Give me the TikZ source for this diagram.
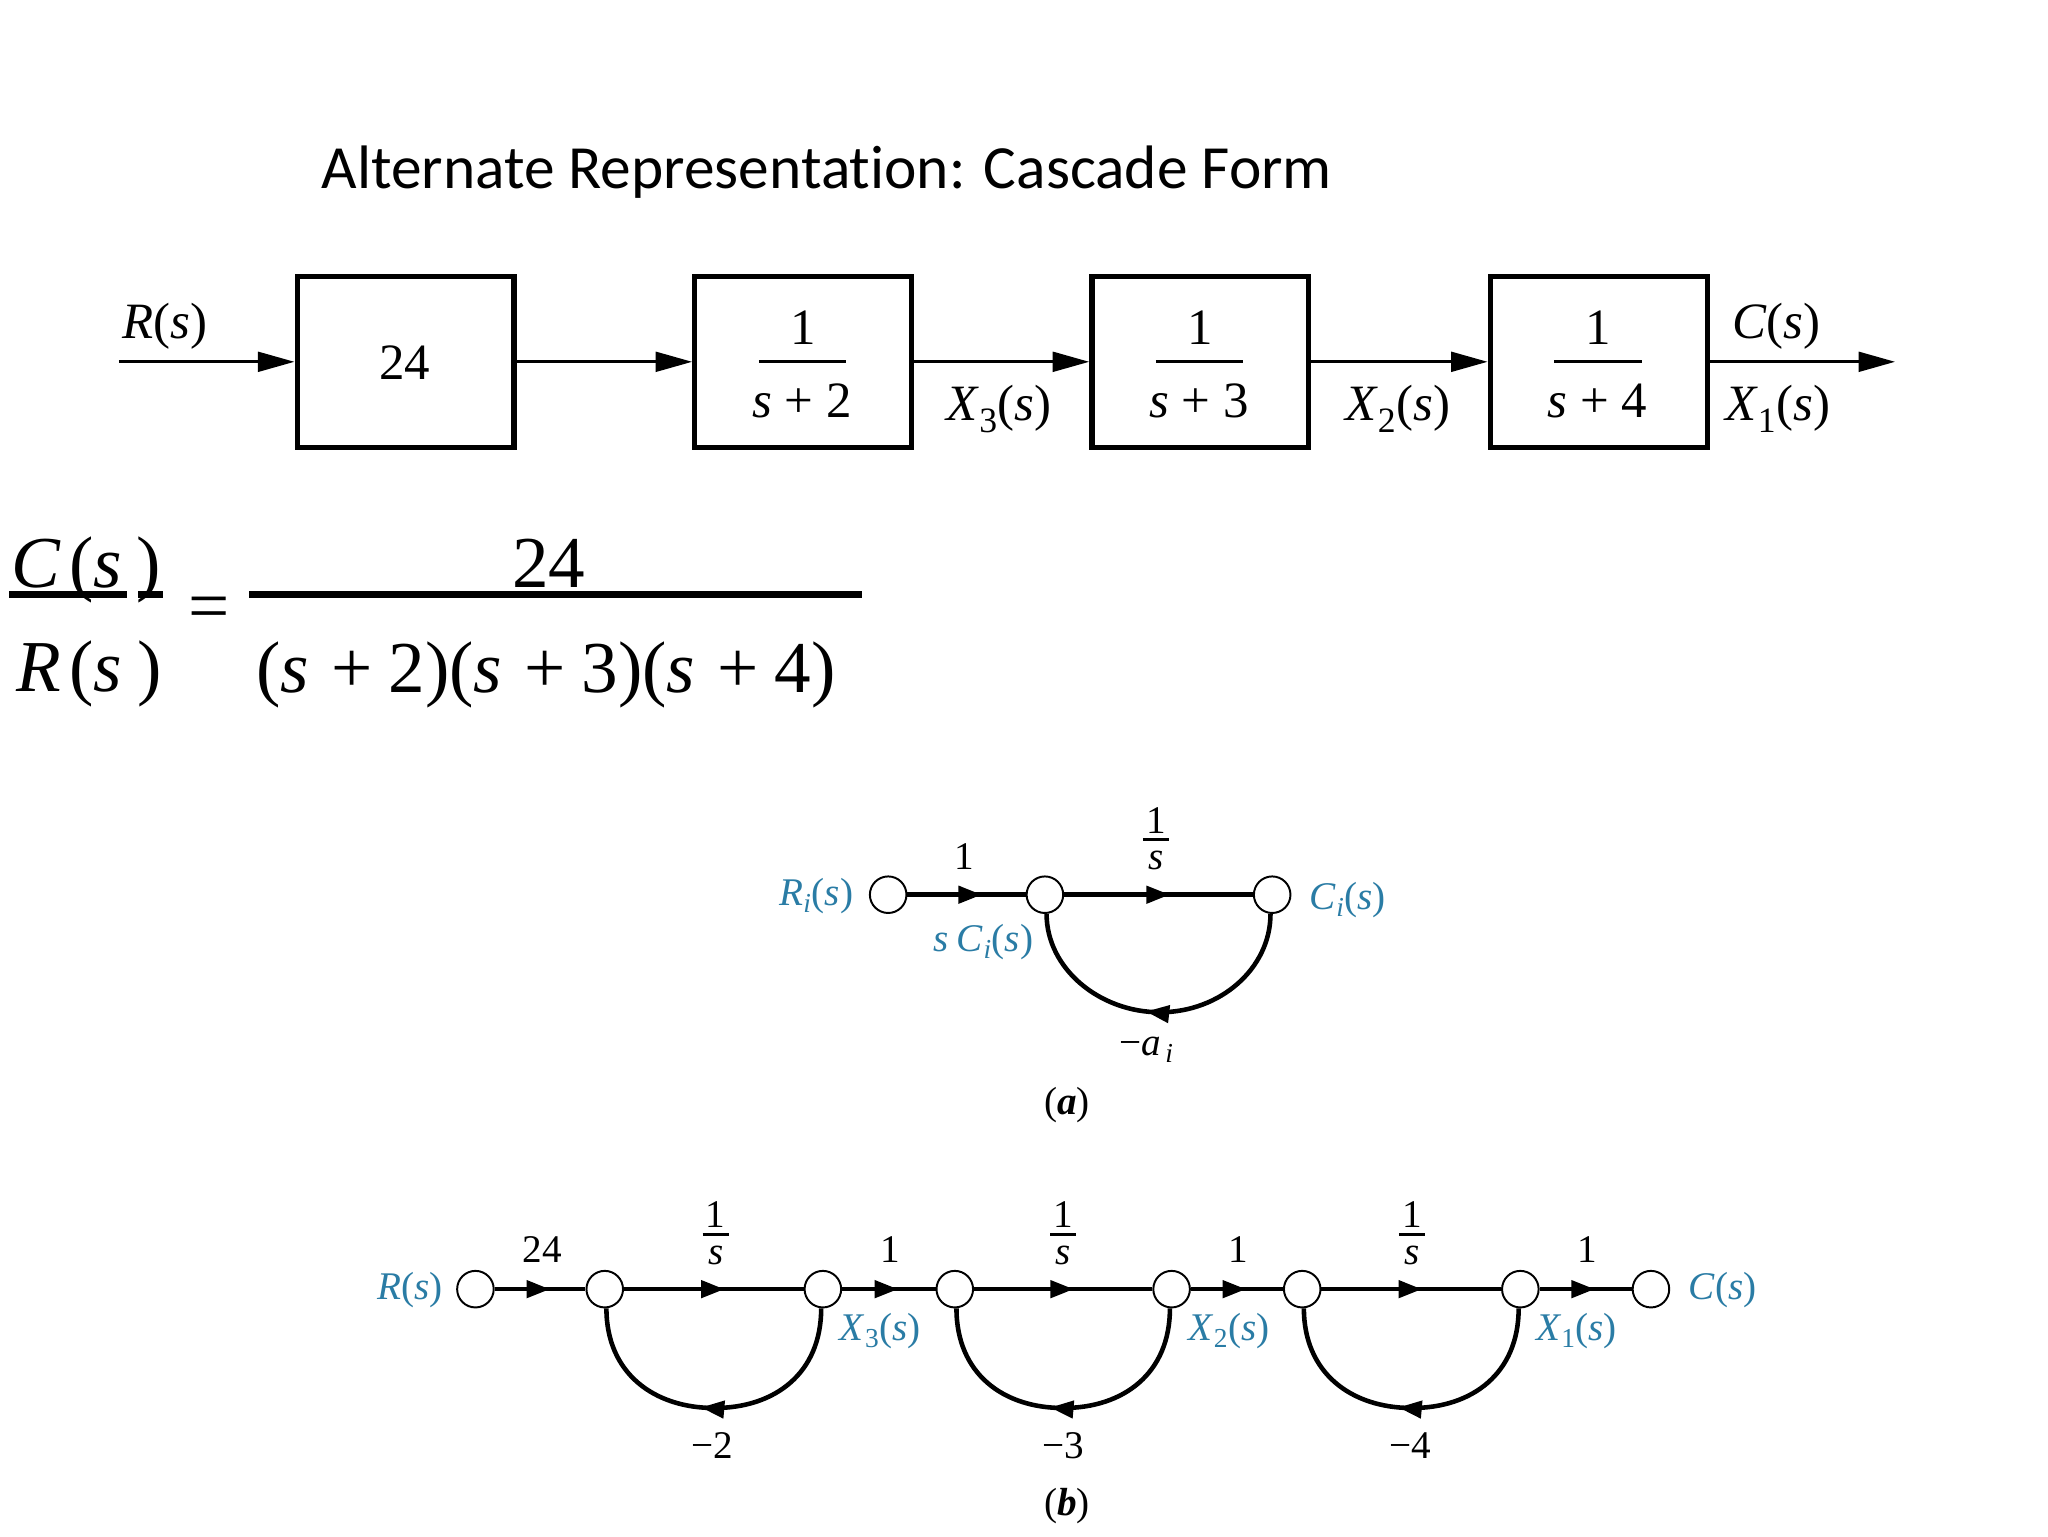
\documentclass[tikz,border=0pt]{standalone}
\usepackage{fontspec}
\setmainfont{Liberation Serif}
\newfontfamily\titlefont[Ligatures=CommonOff]{Carlito}
\usetikzlibrary{arrows.meta,decorations.markings}
\definecolor{sigblue}{RGB}{42,124,165}
\newcommand{\sfn}[1]{\textit{#1}(\textit{s})}
\newcommand{\sub}[2]{\textit{#1}\textsubscript{#2}(\textit{s})}
\newcommand{\subi}[1]{\textit{#1}\textsubscript{\textit{i}}(\textit{s})}
\newcommand{\pole}[1]{\textit{s}\hspace{.25em}+\hspace{.25em}#1}
\newcommand{\fac}[1]{(\textit{s}\hspace{.3em}+\hspace{.22em}#1)}
\tikzset{
    blockbox/.style={draw,line width=4pt,minimum width=165pt,minimum height=130pt,inner sep=0pt},
    blocktxt/.style={inner sep=0pt,font=\fontsize{39}{41}\selectfont},
    eqtxt/.style={inner sep=0pt,font=\fontsize{56}{60}\selectfont},
    sfgtxt/.style={inner sep=0pt,font=\fontsize{30}{32}\selectfont},
    sigtxt/.style={sfgtxt,text=sigblue},
    sfgnode/.style={draw,circle,line width=1.5pt,minimum size=28pt,inner sep=0pt},
    signal/.style={line width=2.5pt,-{Triangle[length=28pt,width=15pt]}},
    fracbar/.style={line width=2.5pt},
    eqbar/.style={line width=5pt},
    flow/.style={line width=3.5pt,postaction={decorate},
        decoration={markings,mark=at position #1 with {\arrow{Triangle[length=18pt,width=13pt]}}}},
}
\begin{document}
\begin{tikzpicture}[x=1pt,y=-1pt]
        \useasboundingbox (0,0) rectangle (1568,1176);
        \node[inner sep=0pt,font=\titlefont\fontsize{47}{50}\selectfont] (title) at (633,132) {Alternate Representation: Cascade Form};
        %% cascade of blocks
        \coordinate (rin) at (91,277);
        \coordinate (cout) at (1451,277);
        \node[blockbox,minimum width=166pt,minimum height=131pt] (gain) at (310.5,277) {};
        \node[blockbox,minimum width=166pt,minimum height=131pt] (polea) at (615,277) {};
        \node[blockbox,minimum width=166pt,minimum height=131pt] (poleb) at (919,277) {};
        \node[blockbox,minimum width=166pt,minimum height=131pt] (polec) at (1224,277) {};
        \draw[signal] (rin) -- (gain);
        \draw[signal] (gain) -- (polea);
        \draw[signal] (polea) -- (poleb);
        \draw[signal] (poleb) -- (polec);
        \draw[signal] (polec) -- (cout);
        \node[blocktxt] (gaintxt) at (310,278) {24};
        \node[blocktxt] (numa) at (615,251) {1};
        \node[blocktxt] (numb) at (919,251) {1};
        \node[blocktxt] (numc) at (1224,251) {1};
        \draw[fracbar] (581,277) -- (648,277);
        \draw[fracbar] (885,277) -- (952,277);
        \draw[fracbar] (1190,277) -- (1257,277);
        \node[blocktxt] (dena) at (614,307) {\pole{2}};
        \node[blocktxt] (denb) at (918,307) {\pole{3}};
        \node[blocktxt] (denc) at (1223,307) {\pole{4}};
        \node[blocktxt] (rlbl) at (126,250) {\sfn{R}};
        \node[blocktxt] (xclbl) at (765,313) {\sub{X}{3}};
        \node[blocktxt] (xblbl) at (1070,313) {\sub{X}{2}};
        \node[blocktxt] (clbl) at (1360,250) {\sfn{C}};
        \node[blocktxt] (xalbl) at (1361,313) {\sub{X}{1}};
        %% transfer function
        \node[eqtxt] (eqc) at (66,436) {\textit{C}\hspace{.12em}(\textit{s}\hspace{.2em})};
        \node[eqtxt] (eqr) at (68,516) {\textit{R}\hspace{.12em}(\textit{s}\hspace{.2em})};
        \draw[eqbar] (7,455) -- (97,455);
        \draw[eqbar] (106,455) -- (125,455);
        \node[eqtxt] (eqeq) at (160,470) {=};
        \draw[eqbar] (191,455) -- (660,455);
        \node[eqtxt] (eqnum) at (420,431) {24};
        \node[eqtxt] (eqden) at (418,517) {\fac{2}\fac{3}\fac{4}};
        %% single subsystem
        \node[sfgnode] (ri) at (680,685) {};
        \node[sfgnode] (si) at (800,685) {};
        \node[sfgnode] (ci) at (974,685) {};
        \coordinate (boti) at (888,775);
        \draw[flow=0.63] (ri) -- (si);
        \draw[flow=0.56] (si) -- (ci);
        \draw[flow=0.54] (ci.265) .. controls +(0,42) and +(46,0) .. (boti) .. controls +(-46,0) and +(0,42) .. (si.275);
        \node[sfgtxt] (gi) at (738,656) {1};
        \node[sfgtxt] (numi) at (885,628) {1};
        \draw[fracbar] (875,643) -- (895,643);
        \node[sfgtxt] (deni) at (885,659) {\textit{s}};
        \node[sigtxt] (rilbl) at (625,686) {\subi{R}};
        \node[sigtxt] (cilbl) at (1032,689) {\subi{C}};
        \node[sigtxt] (silbl) at (753,721) {\textit{s}\hspace{.2em}\subi{C}};
        \node[sfgtxt] (aifb) at (878,804) {−\textit{a}\hspace{.1em}\textsubscript{\textit{i}}};
        \node[sfgtxt] (caption) at (817,846) {(\textbf{\textit{a}})};
        %% three subsystems in cascade
        \node[sfgnode] (ra) at (364,987) {};
        \node[sfgnode] (na) at (463,987) {};
        \node[sfgnode] (nb) at (630,987) {};
        \node[sfgnode] (nc) at (731,987) {};
        \node[sfgnode] (nd) at (897,987) {};
        \node[sfgnode] (ne) at (997,987) {};
        \node[sfgnode] (nf) at (1164,987) {};
        \node[sfgnode] (cz) at (1264,987) {};
        \coordinate (bota) at (547,1078);
        \coordinate (botb) at (814,1078);
        \coordinate (botc) at (1081,1078);
        \draw[flow=0.61] (ra) -- (na);
        \draw[flow=0.56] (na) -- (nb);
        \draw[flow=0.6] (nb) -- (nc);
        \draw[flow=0.56] (nc) -- (nd);
        \draw[flow=0.6] (nd) -- (ne);
        \draw[flow=0.56] (ne) -- (nf);
        \draw[flow=0.6] (nf) -- (cz);
        \draw[flow=0.54] (nb.265) .. controls +(0,50) and +(46,0) .. (bota) .. controls +(-46,0) and +(0,50) .. (na.275);
        \draw[flow=0.54] (nd.265) .. controls +(0,50) and +(46,0) .. (botb) .. controls +(-46,0) and +(0,50) .. (nc.275);
        \draw[flow=0.54] (nf.265) .. controls +(0,50) and +(46,0) .. (botc) .. controls +(-46,0) and +(0,50) .. (ne.275);
        \node[sfgtxt] (gaina) at (415,957) {24};
        \node[sfgtxt] (onea) at (682,957) {1};
        \node[sfgtxt] (oneb) at (948,957) {1};
        \node[sfgtxt] (onec) at (1215,957) {1};
        \node[sfgtxt] (inuma) at (548,930) {1};
        \node[sfgtxt] (inumb) at (814,930) {1};
        \node[sfgtxt] (inumc) at (1081,930) {1};
        \draw[fracbar] (538,945) -- (558,945);
        \draw[fracbar] (804,945) -- (824,945);
        \draw[fracbar] (1071,945) -- (1091,945);
        \node[sfgtxt] (idena) at (548,961) {\textit{s}};
        \node[sfgtxt] (idenb) at (814,961) {\textit{s}};
        \node[sfgtxt] (idenc) at (1081,961) {\textit{s}};
        \node[sigtxt] (rsig) at (314,988) {\sfn{R}};
        \node[sigtxt] (csig) at (1319,988) {\sfn{C}};
        \node[sigtxt] (xcsig) at (674,1019) {\sub{X}{3}};
        \node[sigtxt] (xbsig) at (941,1019) {\sub{X}{2}};
        \node[sigtxt] (xasig) at (1207,1019) {\sub{X}{1}};
        \node[sfgtxt] (fba) at (545,1107) {−2};
        \node[sfgtxt] (fbb) at (814,1107) {−3};
        \node[sfgtxt] (fbc) at (1080,1107) {−4};
        \node[sfgtxt] (captionb) at (817,1153) {(\textbf{\textit{b}})};
    \end{tikzpicture}
\end{document}
